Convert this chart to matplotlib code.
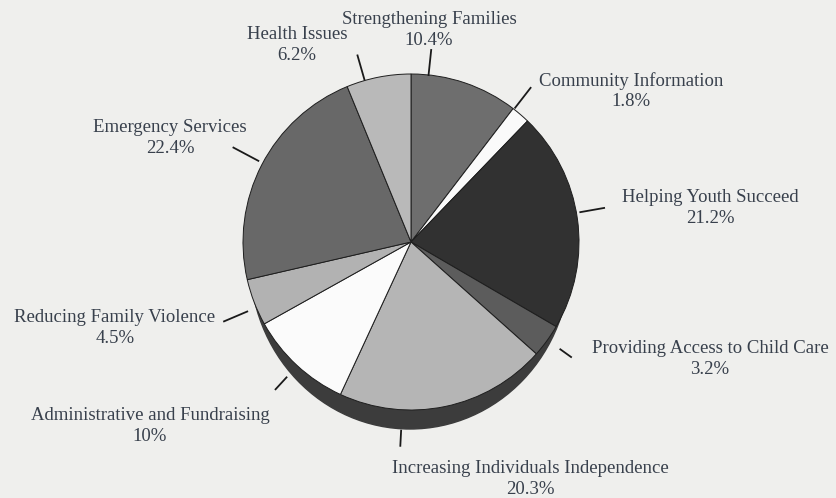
# Pie chart of funding allocation, redrawn from a scanned page
import numpy as np
import matplotlib.pyplot as plt
from matplotlib.patches import Ellipse

categories = ["Strengthening Families", "Community Information", "Helping Youth Succeed",
              "Providing Access to Child Care", "Increasing Individuals Independence",
              "Administrative and Fundraising", "Reducing Family Violence",
              "Emergency Services", "Health Issues"]
percents = [10.4, 1.8, 21.2, 3.2, 20.3, 10.0, 4.5, 22.4, 6.2]
pct_labels = ["10.4%", "1.8%", "21.2%", "3.2%", "20.3%", "10%", "4.5%", "22.4%", "6.2%"]

slice_colors = ["#6e6e6e", "#fafafa", "#313131", "#5c5c5c", "#b5b5b5",
                "#fbfbfb", "#b2b2b2", "#686868", "#b9b9b9"]

# layout (pixel space, y down)
center = (411, 242)
radius = 168
text_pos = [(429, 30), (631, 91), (710, 208), (710, 359), (530, 479),
            (150, 426), (115, 328), (170, 138), (297, 45)]
# leader line: angle clockwise from top, inner radius, outer radius
leaders = [(6.0, 167, 194), (37.8, 169, 196), (80.0, 171, 197), (125.7, 183, 198),
           (183.0, 188, 205), (222.6, 183, 201), (247.0, 177, 204),
           (298.0, 172, 202), (-16.0, 168, 195)]

plt.rcParams['font.family'] = ['Liberation Serif', 'DejaVu Serif']
fig = plt.figure(figsize=(8.36, 4.98), dpi=100)
fig.patch.set_facecolor("#efefed")
ax = fig.add_axes([0, 0, 1, 1])
ax.set_facecolor("#efefed")

# dark rim under the pie for the 3d look
shadow = Ellipse((center[0] - 1, center[1] + 19), 2 * 160, 2 * radius,
                 color="#3c3c3c", zorder=1)
ax.add_patch(shadow)

# y axis is inverted, so counterclock=True runs clockwise on screen
ax.pie(percents, colors=slice_colors, center=center, radius=radius,
       startangle=-90, counterclock=True, frame=True,
       wedgeprops=dict(edgecolor="#1e1e1e", linewidth=0.7, zorder=2))
ax.set_xlim(0, 836)
ax.set_ylim(498, 0)
ax.set_aspect("equal")
ax.axis("off")

for name, pct, (tx, ty), (ang, r1, r2) in zip(categories, pct_labels, text_pos, leaders):
    a = np.radians(ang)
    xs = [center[0] + r1 * np.sin(a), center[0] + r2 * np.sin(a)]
    ys = [center[1] - r1 * np.cos(a), center[1] - r2 * np.cos(a)]
    ax.plot(xs, ys, color="#1a1a1a", lw=1.3, zorder=3, solid_capstyle="butt")
    ax.text(tx, ty, name + "\n" + pct, ha="center", va="center", fontsize=13.5,
            color="#38404c", linespacing=1.25, zorder=4)

fig.savefig("out.png", dpi=100, facecolor=fig.get_facecolor())
